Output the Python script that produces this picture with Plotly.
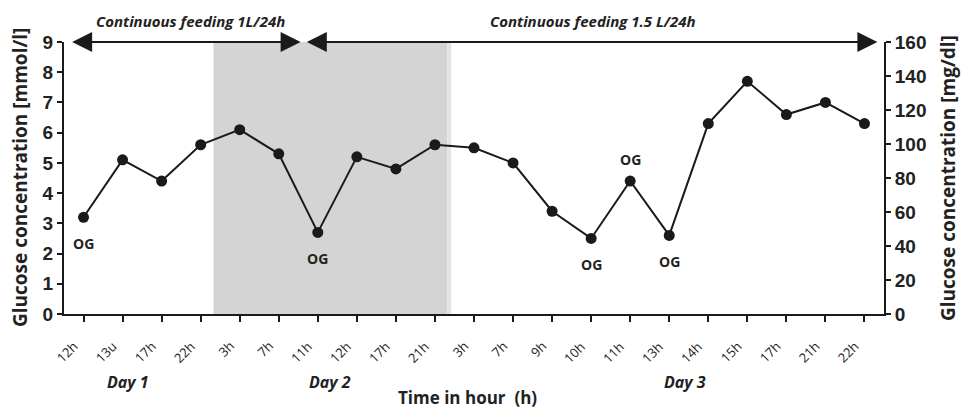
import plotly.graph_objects as go

times = ["12h", "13u", "17h", "22h", "3h", "7h", "11h", "12h", "17h", "21h", "3h",
         "7h", "9h", "10h", "11h", "13h", "14h", "15h", "17h", "21h", "22h"]
glucose_mmol = [3.2, 5.1, 4.4, 5.6, 6.1, 5.3, 2.7, 5.2, 4.8, 5.6, 5.5,
                5.0, 3.4, 2.5, 4.4, 2.6, 6.3, 7.7, 6.6, 7.0, 6.3]
og_below = [0, 6, 13, 15]
og_above = [14]
day_labels = ["Day 1", "Day 2", "Day 3"]
day_pos = [1.15, 6.3, 15.4]
feeding_labels = ["Continuous feeding 1L/24h", "Continuous feeding 1.5 L/24h"]

xs = list(range(len(times)))
INK = "#1a1a1a"

fig = go.Figure()
fig.add_trace(go.Scatter(
    x=xs, y=glucose_mmol, mode="lines+markers",
    line=dict(color=INK, width=2),
    marker=dict(color=INK, size=11),
    showlegend=False, cliponaxis=False))
fig.add_trace(go.Scatter(x=[xs[0]], y=[0], yaxis="y2", mode="markers",
                         marker=dict(opacity=0), showlegend=False, hoverinfo="skip"))

fig.add_shape(type="rect", xref="x", yref="y", x0=3.33, x1=9.32, y0=0, y1=9,
              fillcolor="#d4d4d4", line=dict(width=0), layer="below")
fig.add_shape(type="rect", xref="x", yref="y", x0=9.32, x1=9.42, y0=0, y1=9,
              fillcolor="#e4e4e4", line=dict(width=0), layer="below")

annos = []
# rotated tick labels
for i, t in zip(xs, times):
    annos.append(dict(x=i, y=0, xref="x", yref="y", text=t, showarrow=False, textangle=-45,
                      xanchor="right", yanchor="top", xshift=1, yshift=-21,
                      font=dict(family="Open Sans", size=13, color="#222")))

ogfont = dict(family="Open Sans", size=14, color="#222", weight="bold")
for i in og_below:
    annos.append(dict(x=i, y=glucose_mmol[i], xref="x", yref="y", text="OG", showarrow=False,
                      yshift=-26, font=ogfont))
for i in og_above:
    annos.append(dict(x=i, y=glucose_mmol[i], xref="x", yref="y", text="OG", showarrow=False,
                      yshift=22, font=ogfont))

for x0, x1 in [(-0.33, 5.56), (5.68, 20.33)]:
    annos.append(dict(x=x1, y=9, ax=x0, ay=9, xref="x", yref="y", axref="x", ayref="y",
                      text="", showarrow=True, arrowhead=2, arrowside="end+start",
                      arrowsize=2, arrowwidth=2, arrowcolor=INK))

feedfont = dict(family="Open Sans", size=15, color="#222", weight="bold", style="italic")
annos.append(dict(x=2.75, y=9, xref="x", yref="y", yshift=21, text=feeding_labels[0], showarrow=False,
                  font=feedfont))
annos.append(dict(x=13.05, y=9, xref="x", yref="y", yshift=21, text=feeding_labels[1], showarrow=False,
                  font=feedfont))

for lab, p in zip(day_labels, day_pos):
    annos.append(dict(x=p, y=0, xref="x", yref="y", yshift=-68, text=lab, showarrow=False,
                      xanchor="center", yanchor="middle",
                      font=dict(family="Open Sans", size=16, color="#222", weight="bold", style="italic")))

annos.append(dict(x=0.5, y=0, xref="paper", yref="paper", yshift=-83, xshift=-7, text="Time in hour  (h)",
                  xanchor="center", yanchor="middle",
                  showarrow=False, font=dict(family="Open Sans", size=17, color="#222", weight="bold")))
annos.append(dict(x=0, y=0.5, xref="paper", yref="paper", xshift=-44, text="Glucose concentration [mmol/l]",
                  textangle=-90, showarrow=False, xanchor="center", yanchor="middle",
                  font=dict(family="Open Sans", size=19, color="#222", weight="bold")))
annos.append(dict(x=1, y=0.5, xref="paper", yref="paper", xshift=64, text="Glucose concentration [mg/dl]",
                  textangle=-90, showarrow=False, xanchor="center", yanchor="middle",
                  font=dict(family="Open Sans", size=19, color="#222", weight="bold")))

numfont = dict(family="Liberation Sans", size=19, color="#222", weight="bold")
fig.update_layout(
    width=961, height=408,
    margin=dict(l=64, r=77, t=42, b=94, autoexpand=False),
    paper_bgcolor="white", plot_bgcolor="white",
    annotations=annos,
    xaxis=dict(range=[-0.5, 20.5], tickvals=xs, showticklabels=False,
               ticks="outside", ticklen=6, tickwidth=2, tickcolor=INK,
               showline=True, linewidth=2, linecolor=INK, showgrid=False, zeroline=False,
               automargin=False),
    yaxis=dict(range=[0, 9], dtick=1, ticks="outside", ticklen=5, tickwidth=2, tickcolor=INK,
               showline=True, linewidth=2, linecolor=INK, showgrid=False, zeroline=False,
               automargin=False, tickfont=numfont),
    yaxis2=dict(range=[0, 160], dtick=20, overlaying="y", side="right", ticks="outside",
                ticklen=5, tickwidth=2, tickcolor=INK, showline=True, linewidth=2,
                linecolor=INK, showgrid=False, zeroline=False, automargin=False,
                tickfont=numfont),
)

fig.write_html("out.html", config={"displayModeBar": False},
               post_script="document.body.style.margin='0';")
